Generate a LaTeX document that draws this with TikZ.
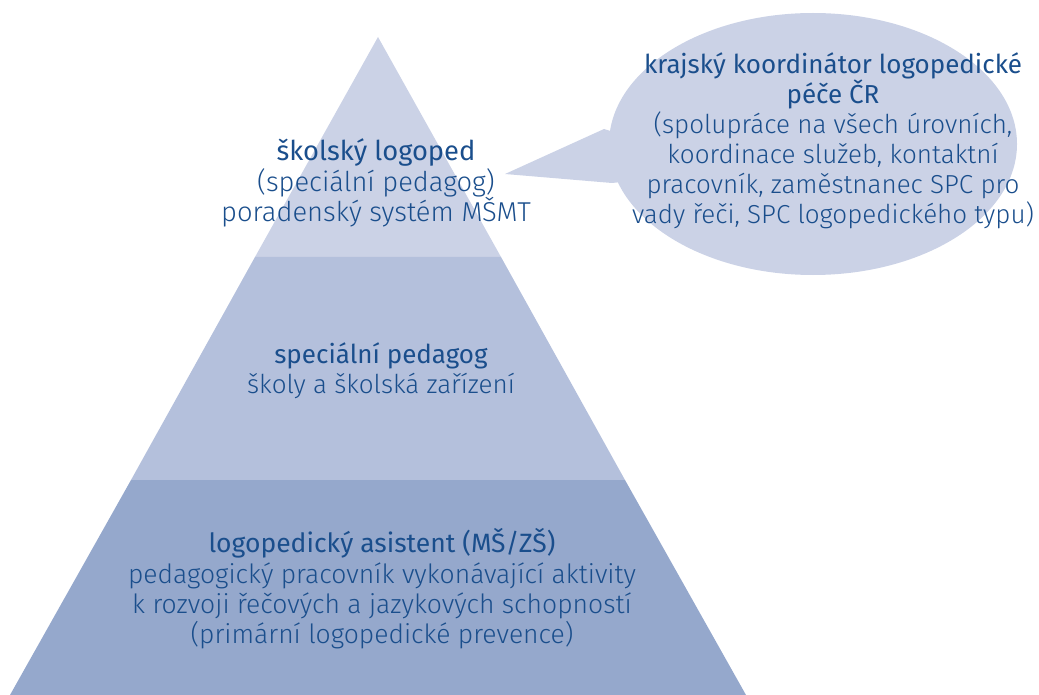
\documentclass[tikz,border=0pt]{standalone}
\usepackage{fontspec}
\setmainfont{Fira Sans Light}[BoldFont={Fira Sans}]
\definecolor{txt}{RGB}{26,78,140}
\definecolor{lvA}{RGB}{203,210,230}
\definecolor{lvB}{RGB}{180,192,220}
\definecolor{lvC}{RGB}{149,168,204}
\tikzset{
  lbl/.style={text=txt, align=center, font=\fontsize{26}{30}\selectfont, inner sep=0pt},
  tlbl/.style={text=txt, align=center, font=\fontsize{27.3}{30.5}\selectfont, inner sep=0pt},
  clbl/.style={text=txt, align=center, font=\fontsize{26.5}{30.4}\selectfont, inner sep=0pt}
}
\begin{document}
\begin{tikzpicture}[x=1pt,y=-1pt]
\path[use as bounding box] (0,0) rectangle (1039,695);
% pyramid bands
\fill[lvA] (378,37) -- (501,257) -- (255,257) -- cycle;
\fill[lvB] (255,257) -- (501,257) -- (625,480) -- (131,480) -- cycle;
\fill[lvC] (131,480) -- (625,480) -- (746,695) -- (10,695) -- cycle;
% speech bubble
\fill[lvA] (813,144) ellipse [x radius=204, y radius=131];
\fill[lvA] (505,174) -- (604,129) -- (640,140) -- (640,180) -- (612,183) -- cycle;
% texts
\node[tlbl] (top) at (376,183) {\textbf{školský logoped}\\(speciální pedagog)\\poradenský systém MŠMT};
\node[lbl] (mid) at (381,371) {\textbf{speciální pedagog}\\školy a školská zařízení};
\node[clbl] (bot) at (382,589) {\textbf{logopedický asistent (MŠ/ZŠ)}\\pedagogický pracovník vykonávající aktivity\\k rozvoji řečových a jazykových schopností\\(primární logopedické prevence)};
\node[lbl] (bub) at (833,141) {\textbf{krajský koordinátor logopedické}\\\textbf{péče ČR}\\(spolupráce na všech úrovních,\\koordinace služeb, kontaktní\\pracovník, zaměstnanec SPC pro\\vady řeči, SPC logopedického typu)};
\end{tikzpicture}
\end{document}
